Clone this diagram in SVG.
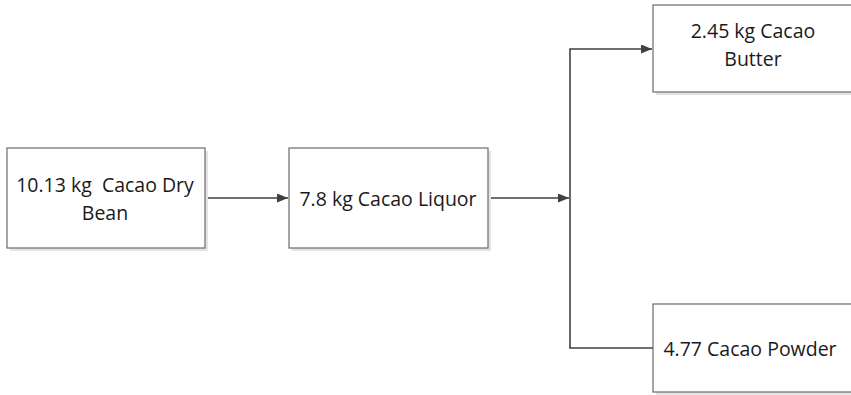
<svg xmlns="http://www.w3.org/2000/svg" width="851" height="395" viewBox="0 0 851 395">
<defs>
<style>
.box{fill:#fff;stroke:#6b6b6b;stroke-width:1.2}
.sh{fill:#e4e4e4}
.t{font-family:"Open Sans","Liberation Sans",sans-serif;font-size:19.5px;fill:#1a1a1a;text-anchor:middle;white-space:pre}
.c{fill:none;stroke:#404040;stroke-width:1.6}
</style>
<marker id="ah" markerWidth="11" markerHeight="9" refX="11" refY="4.5" orient="auto" markerUnits="userSpaceOnUse">
<path d="M0,0 L11,4.5 L0,9 Z" fill="#404040"/>
</marker>
</defs>
<g id="connectors">
<line class="c" x1="205" y1="198" x2="288" y2="198" marker-end="url(#ah)"/>
<line class="c" x1="488" y1="198" x2="569" y2="198" marker-end="url(#ah)"/>
<polyline class="c" points="570,348 570,49 652,49" marker-end="url(#ah)"/>
<line class="c" x1="569.2" y1="348" x2="653" y2="348"/>
</g>
<g id="n1">
<rect class="sh" x="10" y="151" width="198" height="100"/>
<rect class="box" x="7" y="148" width="198" height="100"/>
<text class="t" x="105" y="192" xml:space="preserve">10.13 kg  Cacao Dry</text>
<text class="t" x="105" y="220">Bean</text>
</g>
<g id="n2">
<rect class="sh" x="292" y="151" width="199" height="100"/>
<rect class="box" x="289" y="148" width="199" height="100"/>
<text class="t" x="388" y="206">7.8 kg Cacao Liquor</text>
</g>
<g id="n3">
<rect class="sh" x="656" y="8" width="200" height="87"/>
<rect class="box" x="653" y="5" width="200" height="87"/>
<text class="t" x="753" y="38">2.45 kg Cacao</text>
<text class="t" x="753" y="66">Butter</text>
</g>
<g id="n4">
<rect class="sh" x="656" y="307" width="200" height="88"/>
<rect class="box" x="653" y="304" width="200" height="88"/>
<text class="t" x="750" y="356">4.77 Cacao Powder</text>
</g>
</svg>
